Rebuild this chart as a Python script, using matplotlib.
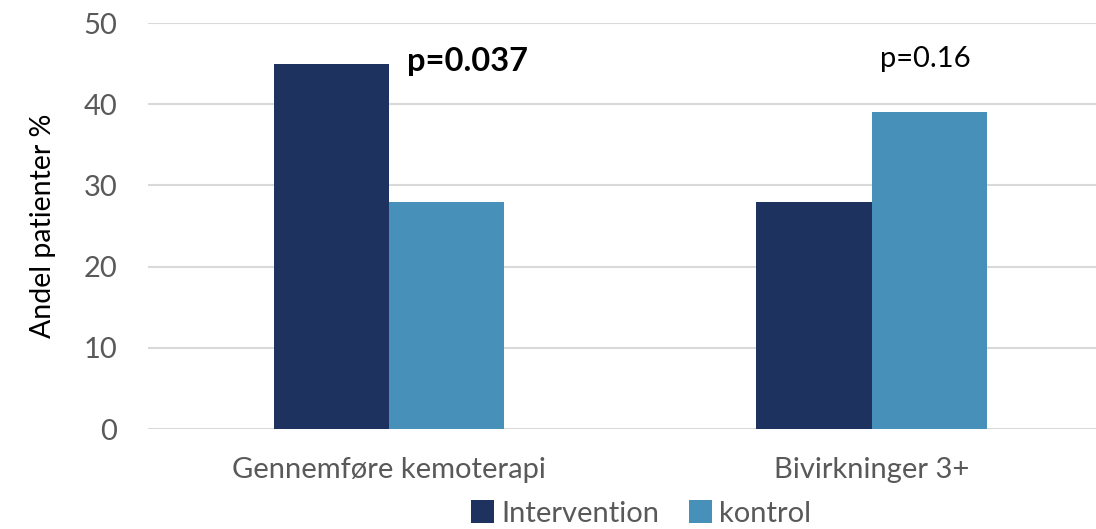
import numpy as np
import matplotlib.pyplot as plt

plt.rcParams['font.family'] = ['Lato', 'DejaVu Sans']

# Data
categories = ["Gennemføre kemoterapi", "Bivirkninger 3+"]
intervention = [45, 28]
kontrol = [28, 39]
p_labels = ["p=0.037", "p=0.16"]
y_ticks = [0, 10, 20, 30, 40, 50]

fig = plt.figure(figsize=(10.96, 5.29), dpi=100)
ax = fig.add_axes([0.135, 0.189, 0.865, 0.7675])

x = np.arange(len(categories))
w = 0.239
ax.bar(x - w / 2, intervention, w, color="#1D325F", label="Intervention", zorder=3)
ax.bar(x + w / 2, kontrol, w, color="#4690BA", label="kontrol", zorder=3)

# p-values
ax.text(x[0] + 0.037, 45.3, p_labels[0], fontsize=23.5, fontweight='bold',
        color="black", ha='left', va='center')
ax.text(x[1] + 0.11, 45.6, p_labels[1], fontsize=21,
        color="black", ha='center', va='center')

ax.set_xlim(-0.499, 1.464)
ax.set_ylim(0, 50)
ax.set_yticks(y_ticks)
ax.set_xticks(x)
ax.set_xticklabels(categories)
ax.tick_params(axis='both', length=0, labelsize=21, colors="#595959")
ax.tick_params(axis='x', pad=20)
ax.tick_params(axis='y', pad=22)
ax.set_ylabel("Andel patienter %", fontsize=20.5, color="black", labelpad=20)

ax.yaxis.grid(True, color="#D9D9D9", linewidth=1.5, zorder=0)
for s in ax.spines.values():
    s.set_visible(False)

leg = fig.legend(loc='lower center', bbox_to_anchor=(0.585, -0.045), ncol=2,
                 frameon=False, fontsize=21, handlelength=0.8, handleheight=0.8,
                 handletextpad=0.25, columnspacing=1.0)
for t in leg.get_texts():
    t.set_color("#595959")

fig.savefig("out.png", dpi=100)
